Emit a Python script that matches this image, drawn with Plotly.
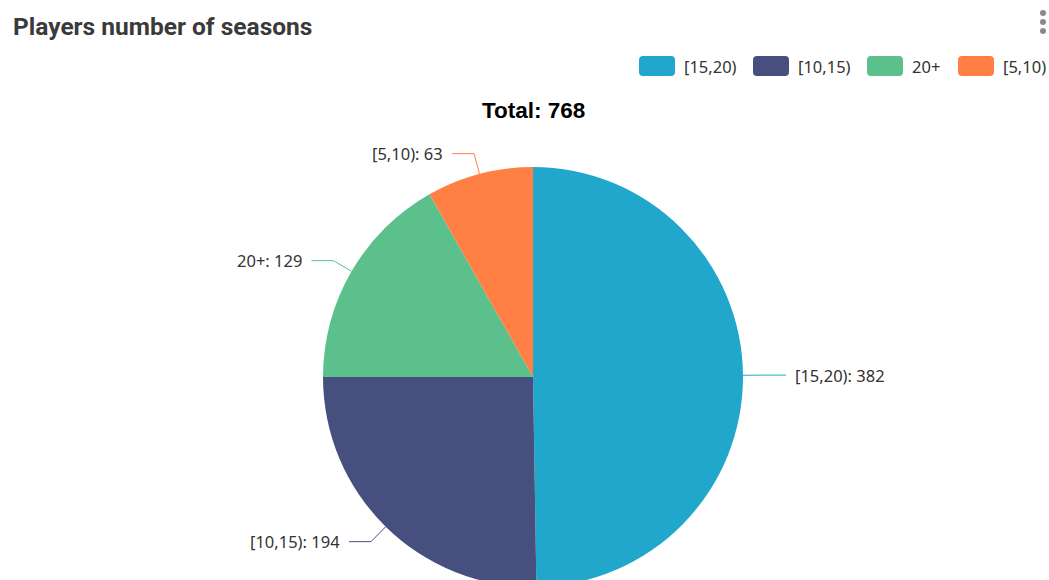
import math
import plotly.graph_objects as go

# Season buckets and player counts
categories = ["[15,20)", "[10,15)", "20+", "[5,10)"]
players = [382, 194, 129, 63]
colors = ["#22A7CC", "#464F7E", "#5BC08B", "#FF7F45"]

chart_title = "Players number of seasons"
total_label = "Total: " + str(sum(players))

W, H = 1049, 600          # figure size in px (pie runs past the visible area)
CX, CY, R = 533, 377, 210  # pie centre and radius in px
LEAD1, LEAD2, GAP = 21, 22, 7

fig = go.Figure()

fig.add_trace(go.Pie(
    labels=categories,
    values=players,
    sort=False,
    direction="clockwise",
    rotation=0,
    marker=dict(colors=colors, line=dict(width=0)),
    textinfo="none",
    hoverinfo="label+value+percent",
    showlegend=False,
    domain=dict(x=[(CX - R) / W, (CX + R) / W],
                y=[(H - CY - R) / H, (H - CY + R) / H]),
))

# Hidden pixel-space axes for leader lines, labels and legend
fig.update_layout(
    xaxis=dict(range=[0, W], visible=False, fixedrange=True),
    yaxis=dict(range=[H, 0], visible=False, fixedrange=True),
)

shapes = []
annotations = []

label_font = dict(family="Noto Sans, Open Sans, sans-serif", size=16.5, color="#333333")

total = sum(players)
cum = 0
for cat, val, col in zip(categories, players, colors):
    mid = (cum + val / 2) / total * 2 * math.pi
    cum += val
    sx, sy = math.sin(mid), -math.cos(mid)
    x0, y0 = CX + R * sx, CY + R * sy
    x1, y1 = CX + (R + LEAD1) * sx, CY + (R + LEAD1) * sy
    side = 1 if sx >= 0 else -1
    x2 = x1 + side * LEAD2
    shapes.append(dict(
        type="path", xref="x", yref="y",
        path=f"M {x0},{y0} L {x1},{y1} L {x2},{y1}",
        line=dict(color=col, width=1),
    ))
    annotations.append(dict(
        x=x2 + side * GAP, y=y1, xref="x", yref="y",
        text=f"{cat}: {val}", showarrow=False,
        xanchor="left" if side > 0 else "right", yanchor="middle",
        font=label_font,
    ))

# Custom legend with rounded swatches
legend_x = [639, 753, 867, 958]
legend_y = 66
sw_w, sw_h, rad = 36, 20, 4
for lx, cat, col in zip(legend_x, categories, colors):
    xa, xb = lx, lx + sw_w
    ya, yb = legend_y - sw_h / 2, legend_y + sw_h / 2
    path = (f"M {xa + rad},{ya} L {xb - rad},{ya} Q {xb},{ya} {xb},{ya + rad} "
            f"L {xb},{yb - rad} Q {xb},{yb} {xb - rad},{yb} "
            f"L {xa + rad},{yb} Q {xa},{yb} {xa},{yb - rad} "
            f"L {xa},{ya + rad} Q {xa},{ya} {xa + rad},{ya} Z")
    shapes.append(dict(type="path", xref="x", yref="y", path=path,
                       fillcolor=col, line=dict(width=0)))
    annotations.append(dict(
        x=xb + 7, y=legend_y, xref="x", yref="y", text=cat, showarrow=False,
        xanchor="left", yanchor="middle", font=label_font,
    ))

# Menu dots in the corner
for dy in (13, 22, 31):
    shapes.append(dict(type="circle", xref="x", yref="y",
                       x0=1040, x1=1046, y0=dy - 3, y1=dy + 3,
                       fillcolor="#8a8a8a", line=dict(width=0)))

# Card title
annotations.append(dict(
    x=11, y=26, xref="x", yref="y", text=f"<b>{chart_title}</b>",
    showarrow=False, xanchor="left", yanchor="middle",
    font=dict(family="Roboto, Liberation Sans, sans-serif", size=24.5, color="#3a3a3a"),
))

# Pie heading with total
annotations.append(dict(
    x=CX, y=110, xref="x", yref="y", text=f"<b>{total_label}</b>",
    showarrow=False, xanchor="center", yanchor="middle",
    font=dict(family="Liberation Sans, Arial, sans-serif", size=22.5, color="#000000"),
))

fig.update_layout(
    width=W, height=H,
    margin=dict(l=0, r=0, t=0, b=0),
    paper_bgcolor="white", plot_bgcolor="white",
    shapes=shapes, annotations=annotations,
    showlegend=False,
)

fig.write_html(
    "out.html",
    post_script="document.documentElement.style.overflow='hidden';"
                "document.body.style.overflow='hidden';",
)
